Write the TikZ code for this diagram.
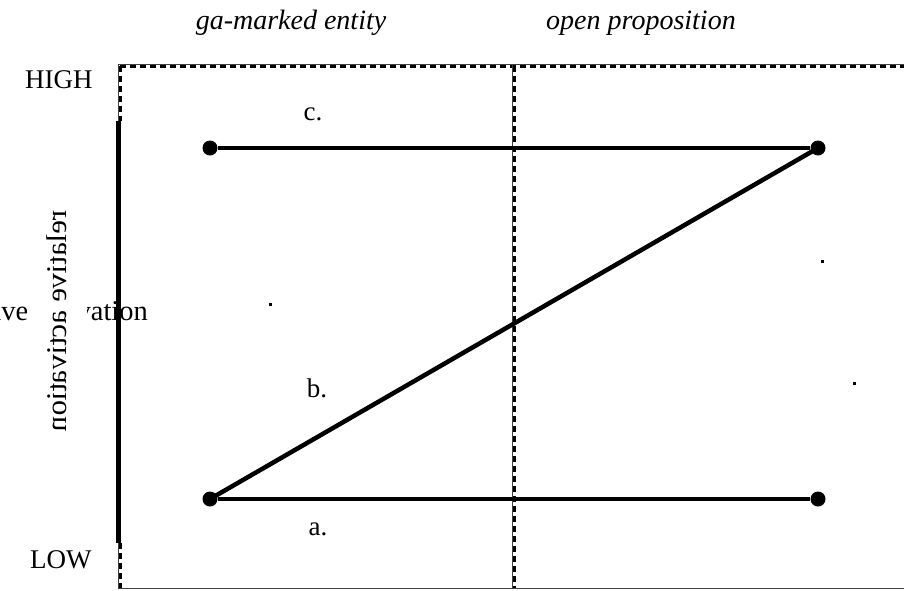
\documentclass[tikz,border=0pt]{standalone}
\usepackage{fontspec}
\setmainfont{Liberation Serif}
\usepackage{graphicx}
\begin{document}
\begin{tikzpicture}[x=1pt,y=-1pt,
  lbl/.style={inner sep=0pt,font=\fontsize{27}{29}\selectfont},
  hdr/.style={inner sep=0pt,font=\fontsize{28}{30}\selectfont\itshape},
  dot/.style={circle,fill=black,inner sep=0pt,minimum size=15pt},
  thickline/.style={line width=4.5pt},
  thinborder/.style={line width=1pt,black!75},
  dashborder/.style={line width=3pt,dash pattern=on 6pt off 4pt},
  speck/.style={fill=black,draw=none}]
\useasboundingbox (0,0) rectangle (904,590);
\clip (0,0) rectangle (904,590);
% frame
\draw[thinborder] (118,64) -- (904,64);
\draw[dashborder] (120,66.5) -- (904,66.5);
\draw[thinborder] (118,64) -- (118,588) -- (904,588);
\draw[dashborder] (120.5,66) -- (120.5,121);
\draw[dashborder] (120.5,543) -- (120.5,588);
\draw[line width=4.5pt] (118.5,121) -- (118.5,543);
\draw[thinborder] (512,64) -- (512,588);
\draw[dashborder] (514.3,66) -- (514.3,588);
% headers
\node[hdr,anchor=base] (h1) at (291,29) {ga-marked entity};
\node[hdr,anchor=base] (h2) at (641,29) {open proposition};
% axis labels
\node[lbl,anchor=base west] (high) at (25,88) {HIGH};
\node[lbl,anchor=base west] (low) at (30,568) {LOW};
\node[lbl,anchor=base east,font=\fontsize{28.5}{30}\selectfont] (ra) at (148,320) {relative activation};
\fill[white] (27,292) rectangle (87,333);
\node[inner sep=0pt,rotate=-90,font=\fontsize{28.5}{30}\selectfont] (rot) at (57,321) {\scalebox{1.08}[-1]{relative activation}};
% dots
\node[dot] (tl) at (210,148) {};
\node[dot] (tr) at (818,148) {};
\node[dot] (bl) at (210,499) {};
\node[dot] (br) at (818,499) {};
\draw[thickline] (tl) -- (tr);
\draw[thickline] (bl) -- (br);
\draw[thickline] (bl.center) -- (tr.center);
% line labels
\node[lbl,anchor=base] (c) at (313,120) {c.};
\node[lbl,anchor=base] (b) at (317,397) {b.};
\node[lbl,anchor=base] (a) at (318,535) {a.};
% specks
\fill[speck] (269,303) rectangle (272,306);
\fill[speck] (821,260) rectangle (824,263);
\fill[speck] (853,382) rectangle (856,385);
\end{tikzpicture}
\end{document}
